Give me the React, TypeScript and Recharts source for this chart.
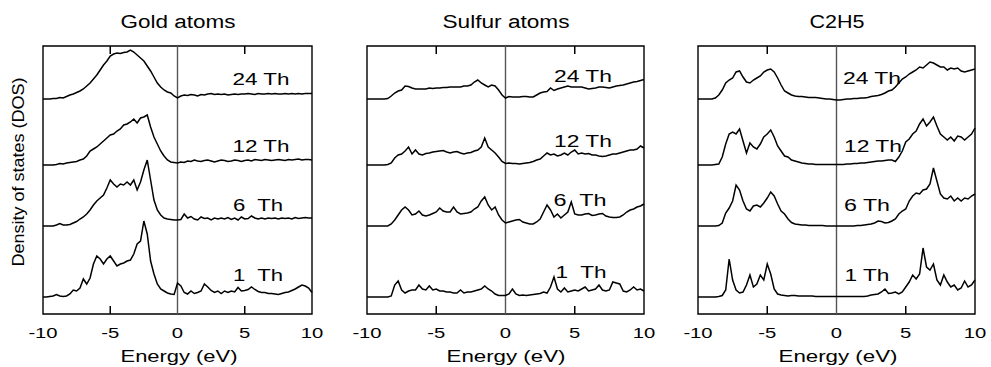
import React from 'react';
import { LineChart, Line, XAxis, YAxis, ReferenceLine, ReferenceArea } from 'recharts';

// energy grid (eV), 0.25 eV steps
const ENERGY = [
  -10, -9.75, -9.5, -9.25, -9, -8.75, -8.5, -8.25, -8, -7.75,
  -7.5, -7.25, -7, -6.75, -6.5, -6.25, -6, -5.75, -5.5, -5.25,
  -5, -4.75, -4.5, -4.25, -4, -3.75, -3.5, -3.25, -3, -2.75,
  -2.5, -2.25, -2, -1.75, -1.5, -1.25, -1, -0.75, -0.5, -0.25,
  0, 0.25, 0.5, 0.75, 1, 1.25, 1.5, 1.75, 2, 2.25,
  2.5, 2.75, 3, 3.25, 3.5, 3.75, 4, 4.25, 4.5, 4.75,
  5, 5.25, 5.5, 5.75, 6, 6.25, 6.5, 6.75, 7, 7.25,
  7.5, 7.75, 8, 8.25, 8.5, 8.75, 9, 9.25, 9.5, 9.75, 10,
];
const X_TICKS = [-10, -5, 0, 5, 10];
const INNER_TICKS = [-5, 5];

const PANEL_TITLES = ['Gold atoms', 'Sulfur atoms', 'C2H5'];
const THICKNESS = ['24 Th', '12 Th', '6 Th', '1 Th'];

// vertical offsets of the stacked curves (arbitrary DOS units)
const OFFSETS = [215, 149, 88, 17];
const Y_MAX = 268;

// Gold atoms
const GOLD_24 = [
  0, 0, 0, 0.5, 0.5, 1.5, 1, 2.5, 4, 5,
  6.5, 8, 10, 13, 16, 20, 24, 29, 34, 38,
  43, 45, 46, 45.5, 46.5, 47, 49, 47, 44, 41,
  38, 33, 28, 22, 16, 12, 9, 7, 6, 3,
  1, 3, 4, 3.5, 4.5, 4, 3, 4.5, 4, 5,
  5.5, 4.5, 5, 4.5, 5, 4, 4.5, 5, 4.5, 5,
  5, 5.5, 5, 4.5, 5.5, 5, 5, 5.5, 5, 5.5,
  5, 5, 5.5, 5, 5.5, 5, 5.5, 5, 5.5, 5.5, 5.5,
];
const GOLD_12 = [
  0, 0, 0, 0, 0.5, 1.5, 1, 2, 2.5, 3,
  3.5, 5, 6, 9, 14, 16, 18, 21, 24, 27,
  30, 31, 34, 36, 40, 41, 43, 46, 42, 47,
  48, 50, 38, 28, 21, 14, 9, 5, 3, 2.5,
  2, 3, 2.5, 4, 3.5, 5, 4, 3.5, 4.5, 5,
  4, 3, 4, 5, 4.5, 3.5, 4, 5, 4.5, 3.5,
  4.5, 5, 4, 5.5, 5, 4.5, 5.5, 5, 4.5, 5,
  5.5, 5, 4.5, 5.5, 5, 5.5, 6, 5, 5.5, 5.5, 5,
];
const GOLD_6 = [
  0, 0, 0, 0, 1, 2.5, 1, 1, 1.5, 3,
  4.5, 7, 9, 12, 16, 21, 25, 28, 31, 38,
  46, 42, 39, 42, 41, 44, 41, 46, 36, 44,
  56, 66, 46, 26, 16, 11, 8, 7, 6.5, 6,
  6, 6.5, 12, 8, 9.5, 7, 6, 9, 7.5, 8,
  6, 8, 7, 8, 7, 8.5, 6.5, 8, 6, 9,
  7, 7.5, 10, 8, 7, 8, 7, 8, 7.5, 8,
  7, 8, 7.5, 8, 7, 8.5, 7.5, 8, 8.5, 8, 8,
];
const GOLD_1 = [
  0, 0, 0.5, 1, 2.5, 1, 0.5, 1, 3, 7,
  6, 9, 18, 13, 19, 33, 41, 38, 33, 38,
  41, 36, 31, 33, 34, 36, 37, 43, 53, 56,
  76, 63, 36, 23, 13, 8, 6, 4, 3, 2.5,
  14, 11, 4.5, 3, 6, 3.5, 4.5, 6, 13, 10,
  6.5, 4.5, 6, 3.5, 6, 4.5, 6, 5, 9.5, 6,
  6.5, 7.5, 10, 7.5, 5.5, 4.5, 4.5, 3.5, 3.5, 3,
  2.5, 3.5, 4.5, 5, 6.5, 8, 10, 12, 11, 9, 4.5,
];

// Sulfur atoms
const SULFUR_24 = [
  0, 0, 0, 0, 0, 0, 0.5, 3, 6, 8,
  9, 13, 12.5, 11, 10, 10, 10, 10, 11, 10.5,
  11, 11, 11.5, 11.5, 12, 12, 12, 12, 13, 13,
  14, 17, 19, 16, 14, 12, 14, 13, 9, 4,
  1, 2.5, 2, 2, 2, 2.5, 2.5, 2, 2, 4,
  6, 7, 7.5, 11, 8.5, 10, 11, 12, 13, 12,
  12, 12, 12, 11, 10, 10.5, 11, 12, 12, 11.5,
  11, 12, 13, 13.5, 14, 15, 16, 17, 17.5, 18.5, 19.5,
];
const SULFUR_12 = [
  0, 0, 0, 0, 0, 0, 0.5, 2, 7, 10,
  11, 14, 18, 11, 15, 11, 10, 11.5, 12, 13,
  13.5, 14, 14.5, 13, 12, 13, 13.5, 12, 11, 12,
  12.5, 14, 15, 18, 27, 18, 15, 12, 8, 3.5,
  1.5, 2, 1.5, 1.5, 1, 1.5, 2, 2.5, 3.5, 5,
  6, 9, 12, 10, 11, 9, 10, 12, 10, 13,
  15, 11, 12, 11, 11.5, 10, 10, 9, 8.5, 9,
  10, 11, 11, 12, 13, 14, 15, 15, 16, 19, 17,
];
const SULFUR_6 = [
  0, 0, 0, 0, 0, 0, 0, 2, 6, 11,
  16, 19, 16, 11, 12, 15, 11, 10, 11, 12.5,
  14, 18, 15, 14, 14, 19, 14, 12, 12.5, 13,
  14, 17, 19, 25, 29, 21, 16, 19, 11, 6,
  3, 4, 5, 6, 6.5, 4, 3, 2, 2, 4,
  7, 14, 21, 16, 9, 12, 8, 11, 14, 24,
  12, 11, 11, 12, 12.5, 10.5, 11, 12, 12.5, 10,
  9, 8.5, 8.5, 9, 11, 14, 16, 17, 19, 20, 22,
];
const SULFUR_1 = [
  0, 0, 0, 0, 0, 0, 0, 1, 12, 16,
  7, 4, 6, 7, 7, 12, 8, 7, 11, 7,
  8, 6, 6, 5, 5, 4, 4, 7, 4, 5,
  5, 6, 7, 8, 11, 8, 6, 3, 1.5, 1.5,
  1.5, 3, 8, 3, 1.5, 2, 1.5, 2, 2.5, 3,
  3.5, 5, 4, 10, 20, 8, 5, 9, 5, 6,
  7, 6, 8, 10, 6, 7, 8, 12, 7, 6,
  7, 15, 14, 13, 6, 5, 7, 10, 7, 8, 6,
];

// C2H5
const ETHYL_24 = [
  0, 0, 0, 0, 0, 1, 4, 9, 16, 19,
  21, 27, 28, 22, 17, 16, 19, 21, 23, 27,
  29, 30, 27, 21, 14, 8, 6, 4, 3, 2.5,
  2.5, 2, 1.5, 1.5, 1.5, 1, 0.5, 0, 0, -0.5,
  -1, -1, -0.5, 0, 0, 0.5, 0.5, 1, 1, 1.5,
  2.5, 3, 3.5, 4.5, 6, 8, 9, 12, 16, 20,
  22, 25, 27, 29, 32, 31, 34, 37, 36, 34,
  32, 32, 29, 31, 30, 31, 28, 27, 28, 29, 30,
];
const ETHYL_12 = [
  0, 0, 0, 0, 0, 0.5, 1, 8, 21, 31,
  33, 31, 36, 24, 12, 22, 18, 16, 21, 28,
  31, 35, 28, 19, 14, 9, 8, 5, 4, 3,
  2, 1.5, 1, 1, 0.5, 0.5, 0.5, 0.5, 0.5, 0.5,
  0.5, 0.5, 0.5, 1, 1, 1.5, 1.5, 2, 2, 2.5,
  3, 3.5, 4, 4, 4.5, 5, 5, 3.5, 8, 14,
  23, 26, 31, 34, 41, 46, 39, 43, 48, 39,
  31, 28, 25, 28, 24, 29, 28, 25, 28, 31, 37,
];
const ETHYL_6 = [
  0, 0, 0, 0, 0, 0, 0.5, 3, 13, 18,
  25, 41, 36, 25, 17, 15, 20, 21, 19, 23,
  28, 34, 30, 22, 15, 12, 7, 3.5, 2, 1.5,
  1, 1, 0.5, 0.5, 0.5, 0.5, 0.5, 0, 0, 0,
  0, 0, 0, 0, 0, 0, 0.5, 0.5, 1, 1.5,
  2, 3, 5, 4.5, 3, 3.5, 5, 7, 12, 15,
  17, 25, 30, 33, 32, 36, 37, 42, 58, 45,
  32, 28, 27, 30, 25, 28, 25, 28, 27, 30, 32,
];
const ETHYL_1 = [
  0, 0, 0, 0, 0, 0, 0.5, 1.5, 7, 38,
  17, 7, 4, 5, 12, 22, 10, 13, 22, 17,
  33, 23, 8, 3, 2, 1.5, 1, 1.5, 1.5, 1,
  1, 1, 1, 1, 0.5, 0.5, 0.5, 0.5, 0.5, 0.5,
  0.5, 0.5, 0.5, 0.5, 0.5, 0.5, 0.5, 0.5, 0.5, 1,
  2, 2.5, 3, 5, 8, 3.5, 4, 5, 3, 5,
  10, 15, 22, 18, 23, 49, 30, 27, 33, 17,
  12, 22, 15, 10, 12, 7, 9, 16, 10, 12, 17,
];

const KEYS = ['th24', 'th12', 'th6', 'th1'];
const FONT = '"Liberation Sans", Arial, Helvetica, sans-serif';

const buildRows = (series: number[][]) =>
  ENERGY.map((e, i) => {
    const row: Record<string, number> = { e };
    KEYS.forEach((k, j) => {
      row[k] = series[j][i] + OFFSETS[j];
    });
    return row;
  });

const PANELS = [
  { left: 0, width: 330, mLeft: 43, mRight: 18, rows: buildRows([GOLD_24, GOLD_12, GOLD_6, GOLD_1]) },
  { left: 330, width: 330, mLeft: 37, mRight: 16, rows: buildRows([SULFUR_24, SULFUR_12, SULFUR_6, SULFUR_1]) },
  { left: 660, width: 331, mLeft: 38, mRight: 16, rows: buildRows([ETHYL_24, ETHYL_12, ETHYL_6, ETHYL_1]) },
];

// text placement (centre x, centre y, stretched width)
const TITLE_POS = [
  { x: 178, y: 22, w: 115 },
  { x: 506, y: 22, w: 127 },
  { x: 837, y: 22, w: 55 },
];
const XLABEL_POS = [
  { x: 179, y: 356, w: 117 },
  { x: 506, y: 356, w: 119 },
  { x: 838, y: 356, w: 119 },
];
const CURVE_LABEL_POS = [
  [{ x: 261, y: 79, w: 57 }, { x: 261, y: 146, w: 57 }, { x: 258, y: 205, w: 50 }, { x: 258, y: 275, w: 50 }],
  [{ x: 583, y: 76, w: 58 }, { x: 583, y: 141, w: 58 }, { x: 580, y: 200, w: 53 }, { x: 581, y: 272, w: 51 }],
  [{ x: 872, y: 78, w: 58 }, { x: 873, y: 146, w: 58 }, { x: 867, y: 205, w: 46 }, { x: 867, y: 275, w: 45 }],
];
// Gold and sulfur panels print a double space before "Th"
const WIDE_GAP = [true, true, false];

const StretchText = ({ x, y, w, size, children, rotate }: any) => (
  <text
    x={x}
    y={y}
    textAnchor="middle"
    dominantBaseline="central"
    textLength={w}
    lengthAdjust="spacingAndGlyphs"
    fontSize={size}
    fontFamily={FONT}
    fill="#000"
    xmlSpace="preserve"
    transform={rotate ? `rotate(-90, ${x}, ${y})` : undefined}
  >
    {children}
  </text>
);

// tick labels in the original are drawn wide, so stretch them horizontally
const WideTick = (props: any) => {
  const { x, y, payload } = props;
  return (
    <g transform={`translate(${x},${y}) scale(1.35,1)`}>
      <text x={0} y={0} dy="0.71em" textAnchor="middle" fontSize={15} fontFamily={FONT} fill="#000">
        {payload.value}
      </text>
    </g>
  );
};

const Panel = ({ left, width, mLeft, mRight, rows }: any) => (
  <div style={{ position: 'absolute', left, top: 0 }}>
    <LineChart width={width} height={367} data={rows} margin={{ top: 46, right: mRight, bottom: 23, left: mLeft }}>
      <XAxis
        dataKey="e"
        type="number"
        domain={[-10, 10]}
        ticks={X_TICKS}
        interval={0}
        height={30}
        tickLine={false}
        axisLine={false}
        tickMargin={7}
        tick={WideTick}
      />
      <YAxis hide type="number" domain={[0, Y_MAX]} allowDataOverflow />
      <ReferenceArea x1={-10} x2={10} y1={0} y2={Y_MAX} fill="none" fillOpacity={0} stroke="#000" strokeWidth={1.4} />
      {INNER_TICKS.map((t) => (
        <ReferenceLine
          key={'b' + t}
          segment={[{ x: t, y: 0 }, { x: t, y: 8 }]}
          stroke="#000"
          strokeWidth={1.5}
          ifOverflow="visible"
        />
      ))}
      {INNER_TICKS.map((t) => (
        <ReferenceLine
          key={'t' + t}
          segment={[{ x: t, y: Y_MAX - 8 }, { x: t, y: Y_MAX }]}
          stroke="#000"
          strokeWidth={1.5}
          ifOverflow="visible"
        />
      ))}
      <ReferenceLine x={0} stroke="#555" strokeWidth={1.4} />
      {KEYS.map((k) => (
        <Line
          key={k}
          dataKey={k}
          type="linear"
          stroke="#000"
          strokeWidth={1.5}
          dot={false}
          isAnimationActive={false}
        />
      ))}
    </LineChart>
  </div>
);

export default function App() {
  return (
    <div style={{ position: 'absolute', left: 0, top: 0, width: 991, height: 367, background: '#fff' }}>
      {PANELS.map((p, i) => (
        <Panel key={i} {...p} />
      ))}
      <svg width={991} height={367} style={{ position: 'absolute', left: 0, top: 0, pointerEvents: 'none' }}>
        {PANEL_TITLES.map((t, i) => (
          <StretchText key={t} {...TITLE_POS[i]} size={18}>
            {t}
          </StretchText>
        ))}
        {XLABEL_POS.map((p, i) => (
          <StretchText key={'xl' + i} {...p} size={16}>
            Energy (eV)
          </StretchText>
        ))}
        {CURVE_LABEL_POS.map((row, i) =>
          row.map((p, j) => (
            <StretchText key={'cl' + i + j} {...p} size={16}>
              {WIDE_GAP[i] && j >= 2 ? THICKNESS[j].replace(' ', '  ') : THICKNESS[j]}
            </StretchText>
          ))
        )}
        <StretchText x={18} y={172} w={189} size={17} rotate>
          Density of states (DOS)
        </StretchText>
      </svg>
    </div>
  );
}
